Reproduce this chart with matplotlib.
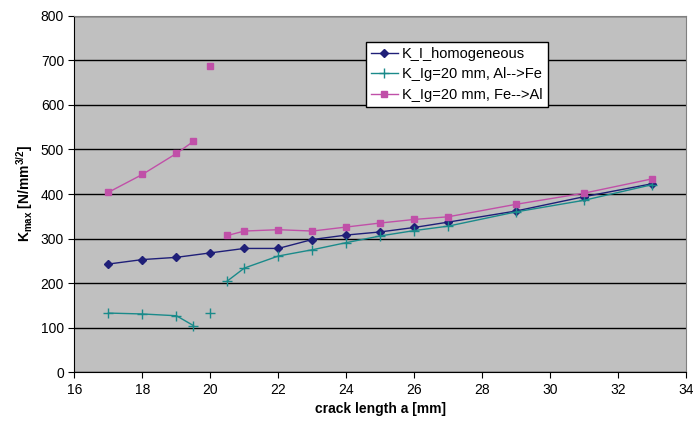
import matplotlib
matplotlib.use("Agg")
import matplotlib.pyplot as plt
import numpy as np

plt.rcParams['font.family'] = ['Liberation Sans', 'DejaVu Sans']
plt.rcParams['mathtext.fontset'] = 'custom'
plt.rcParams['mathtext.rm'] = 'Liberation Sans'
plt.rcParams['mathtext.bf'] = 'Liberation Sans:bold'

nan = np.nan

# crack length a [mm]
a_homog = [17, 18, 19, 20, 21, 22, 23, 24, 25, 26, 27, 29, 31, 33]
k_homog = [243, 253, 258, 268, 278, 278, 298, 308, 315, 325, 337, 362, 394, 423]

# bimaterial series (NaN = break in the line)
a_bi = [17, 18, 19, 19.5, nan, 20, nan, 20.5, 21, 22, 23, 24, 25, 26, 27, 29, 31, 33]
k_al_fe = [133, 131, 127, 105, nan, 133, nan, 205, 234, 261, 275, 291, 306, 318, 328, 360, 386, 421]
k_fe_al = [404, 444, 491, 518, nan, 688, nan, 307, 317, 320, 317, 326, 335, 343, 349, 377, 402, 434]

fig = plt.figure(figsize=(6.93, 4.29), dpi=100)
ax = fig.add_axes([0.1075, 0.132, 0.8824, 0.8314])
ax.set_facecolor('#C0C0C0')

ax.plot(a_homog, k_homog, color='#1F1F78', lw=1, marker='D', ms=4,
        label='K_I_homogeneous', zorder=3)
ax.plot(a_bi, k_al_fe, color='#1A8A8A', lw=1, marker='+', ms=7, mew=1,
        label='K_Ig=20 mm, Al-->Fe', zorder=3)
ax.plot(a_bi, k_fe_al, color='#C050A8', lw=1, marker='s', ms=4.5,
        label='K_Ig=20 mm, Fe-->Al', zorder=3)

ax.set_xlim(16, 34)
ax.set_ylim(0, 800)
ax.set_xticks(range(16, 35, 2))
ax.set_yticks(range(0, 801, 100))
ax.yaxis.grid(True, color='black', lw=1)
ax.set_axisbelow(True)
ax.tick_params(direction='out', length=4, labelsize=10, colors='black')

for s in ['top', 'right']:
    ax.spines[s].set_color('#808080')
ax.spines['left'].set_color('black')
ax.spines['bottom'].set_color('black')

ax.set_xlabel('crack length a [mm]', fontweight='bold', fontsize=10)
ax.set_ylabel(r'K$_{\mathregular{max}}$ [N/mm$^{\mathbf{3/2}}$]', fontweight='bold', fontsize=10)

leg = ax.legend(loc='upper left', bbox_to_anchor=(0.476, 0.927), fontsize=10.5,
                fancybox=False, edgecolor='black', framealpha=1,
                handlelength=1.85, handletextpad=0.3, borderpad=0.35,
                labelspacing=0.45, borderaxespad=0)
leg.get_frame().set_linewidth(1)

fig.savefig('out.png', dpi=100)
